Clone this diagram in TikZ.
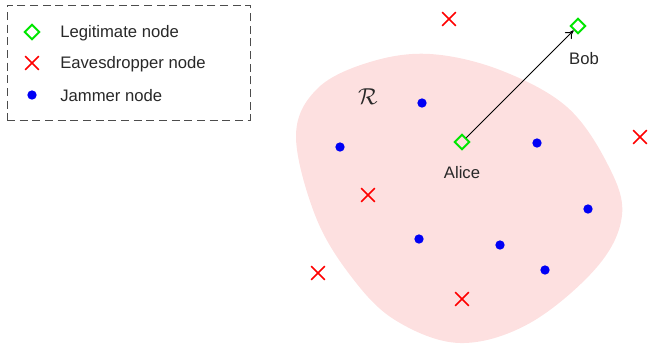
\documentclass[tikz,border=0pt]{standalone}
\usepackage{fontspec}
\setmainfont{Liberation Sans}
\usetikzlibrary{shapes.geometric,shapes.misc,arrows.meta}
\definecolor{legit}{RGB}{0,230,0}
\definecolor{eave}{RGB}{255,0,0}
\definecolor{jam}{RGB}{0,0,245}
\definecolor{region}{RGB}{253,224,224}
\definecolor{txt}{RGB}{40,40,40}
\tikzset{
  legitnode/.style={diamond,draw=legit,line width=1.5pt,inner sep=0pt,minimum size=11.5pt},
  eavenode/.style={cross out,draw=eave,line width=1.3pt,inner sep=0pt,minimum size=9pt},
  jamnode/.style={circle,fill=jam,inner sep=0pt,minimum size=7pt},
  lbl/.style={text=txt,font=\fontsize{12.5}{15}\selectfont,inner sep=0pt},
}
\begin{document}
\begin{tikzpicture}[x=0.75pt,y=-0.75pt]
\useasboundingbox (0,0) rectangle (649,347);
% region R
\fill[region] plot[smooth cycle,tension=0.6] coordinates {
  (296,135) (318,88) (370,62) (430,54) (500,70) (567,107) (608,165)
  (622,215) (597,267) (530,323) (460,343) (395,320) (350,275) (315,215)};
\node[font=\fontsize{17}{20}\selectfont,text=txt] (R) at (368,97) {$\mathcal{R}$};
% legend
\node[draw=black!70,dash pattern=on 6pt off 3.5pt,line width=0.6pt,minimum width=182.25pt,minimum height=86.25pt,inner sep=0pt] (legend) at (128.5,62.5) {};
\node[legitnode] (l1) at (32,32) {};
\node[eavenode] (l2) at (32,63) {};
\node[jamnode] (l3) at (32,95) {};
\node[lbl,anchor=west] (t1) at (60,33) {Legitimate node};
\node[lbl,anchor=west] (t2) at (60,64) {Eavesdropper node};
\node[lbl,anchor=west] (t3) at (60,96) {Jammer node};
% legitimate nodes
\node[legitnode] (alice) at (462,142) {};
\node[legitnode] (bob) at (578,26) {};
\node[lbl] (alicel) at (462,173) {Alice};
\node[lbl] (bobl) at (584,59) {Bob};
\draw[-{To[length=6pt,width=7pt]},line width=0.7pt] (alice.north east) -- (bob.south west);
% eavesdroppers
\node[eavenode] (e1) at (449,19) {};
\node[eavenode] (e2) at (640,137) {};
\node[eavenode] (e3) at (368,195) {};
\node[eavenode] (e4) at (318,273) {};
\node[eavenode] (e5) at (462,299) {};
% jammers
\node[jamnode] (j1) at (422,103) {};
\node[jamnode] (j2) at (340,147) {};
\node[jamnode] (j3) at (537,143) {};
\node[jamnode] (j4) at (588,209) {};
\node[jamnode] (j5) at (419,239) {};
\node[jamnode] (j6) at (500,245) {};
\node[jamnode] (j7) at (545,270) {};
\end{tikzpicture}
\end{document}
